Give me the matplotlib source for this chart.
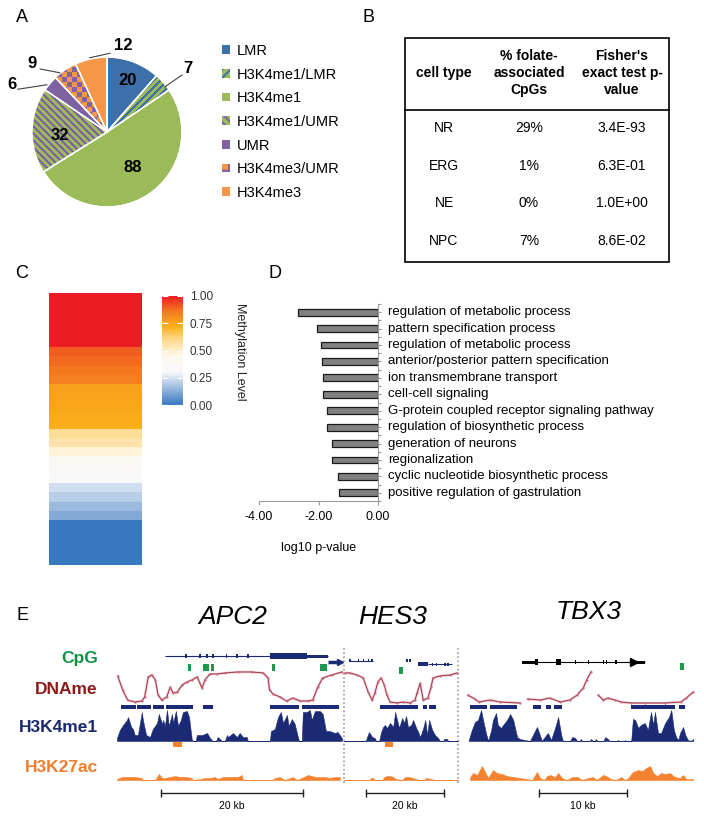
import matplotlib
matplotlib.use("Agg")
import matplotlib.pyplot as plt
import numpy as np
from matplotlib.patches import Rectangle, Patch
from matplotlib.colors import LinearSegmentedColormap, Normalize, to_rgb
from matplotlib.cm import ScalarMappable
from matplotlib.ticker import MultipleLocator

plt.rcParams['font.family'] = ['Liberation Sans', 'DejaVu Sans']
plt.rcParams['hatch.linewidth'] = 1.5

# --------------------
# Data
# --------------------
# A: pie
pie_labels = ['LMR', 'H3K4me1/LMR', 'H3K4me1', 'H3K4me1/UMR', 'UMR', 'H3K4me3/UMR', 'H3K4me3']
pie_counts = [20, 7, 88, 32, 6, 9, 12]

# B: table
table_header = ['cell type', '% folate-\nassociated\nCpGs', "Fisher's\nexact test p-\nvalue"]
cell_types = ['NR', 'ERG', 'NE', 'NPC']
pct_folate = ['29%', '1%', '0%', '7%']
fisher_p = ['3.4E-93', '6.3E-01', '1.0E+00', '8.6E-02']

# C: methylation heatmap (top -> bottom)
meth_levels = [1.0, 1.0, 1.0, 1.0, 1.0, 1.0, 0.90, 0.88, 0.86, 0.84,
               0.76, 0.75, 0.74, 0.73, 0.72, 0.58, 0.55, 0.48, 0.38, 0.35,
               0.32, 0.24, 0.20, 0.16, 0.12, 0.0, 0.0, 0.0, 0.0, 0.0]
cbar_ticks = [0.0, 0.25, 0.5, 0.75, 1.0]

# D: GO terms
go_terms = ['regulation of metabolic process', 'pattern specification process',
            'regulation of metabolic process', 'anterior/posterior pattern specification',
            'ion transmembrane transport', 'cell-cell signaling',
            'G-protein coupled receptor signaling pathway', 'regulation of biosynthetic process',
            'generation of neurons', 'regionalization',
            'cyclic nucleotide biosynthetic process', 'positive regulation of gastrulation']
go_log10p = [-2.70, -2.04, -1.93, -1.89, -1.86, -1.85, -1.71, -1.71, -1.56, -1.53, -1.34, -1.32]
go_xticks = [-4.0, -2.0, 0.0]

# E: genome tracks (positions in kb from window start)
gene_names = ['APC2', 'HES3', 'TBX3']
window_kb = [32.0, 29.2, 25.9]
scale_start = [6.2, 5.6, 8.2]
scale_len = [20, 20, 10]

apc2_gene_span = (6.8, 29.7)
apc2_exons = [(9.6, 9.9), (11.55, 11.85), (12.55, 12.8), (13.4, 13.65), (15.35, 15.55), (16.75, 17.0), (18.3, 18.55)]
apc2_cds = [(21.55, 26.75)]
apc2_utr = [(26.75, 29.7)]
apc2_next_gene = (29.7, 31.5)
apc2_cpg = [(10.0, 10.4), (12.1, 12.5), (12.6, 12.95), (13.3, 13.7), (21.9, 22.3), (28.6, 29.6)]
apc2_dname_pos = [0.1, 0.8, 1.5, 2.5, 3.5, 3.9, 4.4, 4.9, 5.4, 5.8, 6.3, 7.0, 7.5, 7.9, 8.5, 9.2, 9.9, 10.6, 11.3, 12.0,
                  12.4, 13.1, 14.1, 15.2, 17.0, 19.0, 20.6, 21.3, 21.5, 22.0, 23.0, 23.9, 24.8, 25.8, 26.9, 27.6, 28.3, 29.0, 30.3, 31.7]
apc2_dname_val = [0.82, 0.39, 0.09, 0.03, 0.06, 0.18, 0.79, 0.85, 0.70, 0.24, 0.09, 0.18, 0.48, 0.30, 0.33, 0.55, 0.64, 0.70, 0.79, 0.45,
                  0.70, 0.88, 0.88, 0.91, 0.94, 0.94, 0.91, 0.76, 0.39, 0.27, 0.18, 0.06, 0.15, 0.06, 0.06, 0.09, 0.48, 0.76, 0.85, 0.94]
apc2_k4_peaks = [(0.6, 2.7), (2.8, 4.8), (5.1, 6.6), (6.9, 10.7), (12.1, 13.5), (21.5, 25.6), (26.1, 31.3)]
apc2_k4_pos = [0.0, 0.4, 0.85, 1.4, 1.55, 2.0, 2.25, 2.5, 2.95, 3.5,
               3.65, 4.1, 4.65, 5.05, 5.65, 5.9, 6.35, 6.5, 6.75, 7.05,
               7.3, 7.75, 7.9, 8.3, 8.6, 9.0, 9.3, 9.85, 10.15, 10.55,
               10.85, 11.1, 11.25, 12.0, 12.7, 13.1, 13.5, 13.95, 14.2, 14.8,
               15.2, 15.5, 15.65, 16.35, 16.9, 17.3, 17.75, 18.3, 18.45, 21.55,
               21.7, 22.25, 22.7, 23.1, 23.4, 23.95, 24.2, 24.65, 25.05, 25.5,
               25.65, 26.05, 26.2, 26.75, 27.2, 27.45, 27.9, 28.6, 29.0, 29.45,
               30.0, 30.7, 31.1, 31.7]
apc2_k4_val = [3, 11, 16, 21, 24, 14, 12, 6, 6, 29,
               21, 6, 4, 12, 18, 27, 17, 21, 15, 31,
               15, 27, 18, 30, 15, 21, 29, 30, 24, 1,
               0, 0, 6, 6, 8, 3, 0, 0, 4, 0,
               0, 6, 4, 8, 4, 8, 4, 4, 0, 0,
               10, 12, 24, 29, 18, 26, 15, 22, 17, 4,
               0, 0, 29, 29, 31, 21, 30, 30, 27, 10,
               10, 8, 9, 3]
apc2_k27_peaks = [(7.9, 9.2)]
apc2_k27_pos = [0.0, 0.7, 1.55, 2.5, 3.5, 3.65, 5.35, 5.65, 5.9, 6.35,
                6.75, 7.45, 8.15, 8.85, 9.85, 10.55, 10.7, 11.7, 12.4, 13.1,
                13.8, 14.2, 14.9, 15.65, 16.35, 17.05, 17.6, 17.75, 21.85, 22.25,
                22.95, 23.65, 24.8, 25.35, 26.35, 26.9, 27.45, 28.0, 28.6, 29.3,
                30.0, 30.7, 31.4]
apc2_k27_val = [1, 3, 3, 3, 2, 0, 0, 3, 6, 2,
                2, 3, 4, 3, 3, 2, 0, 1, 2, 2,
                3, 1, 3, 3, 3, 3, 5, 0, 0, 2,
                3, 0, 3, 0, 3, 5, 4, 3, 3, 3,
                2, 3, 3]

hes3_gene1_span = (1.3, 7.4)
hes3_gene1_exons = [(1.3, 1.7), (3.5, 3.8), (4.8, 5.1), (6.1, 6.4), (7.0, 7.4)]
hes3_small_feat = [(15.9, 16.4), (16.7, 17.2)]
hes3_gene2_span = (21.5, 27.7)
hes3_gene2_cds = [(19.0, 21.5)]
hes3_gene2_exons = [(22.6, 22.9), (23.6, 23.9), (25.7, 26.0), (26.5, 26.8)]
hes3_cpg = [(14.1, 15.1)]
hes3_dname_pos = [0.3, 1.5, 3.3, 4.9, 6.2, 7.2, 7.9, 8.7, 9.5, 10.3, 11.0, 11.8, 13.6, 15.1, 16.9, 18.2, 18.7, 19.5,
                  20.3, 21.5, 22.3, 22.8, 24.6, 27.2, 29.0]
hes3_dname_val = [0.91, 0.91, 0.85, 0.76, 0.33, 0.09, 0.30, 0.64, 0.76, 0.55, 0.24, 0.03, 0.0, 0.03, 0.0, 0.09, 0.30, 0.60,
                  0.09, 0.15, 0.48, 0.76, 0.82, 0.85, 0.91]
hes3_k4_peaks = [(9.2, 19.0), (20.3, 21.3), (21.8, 23.6)]
hes3_k4_pos = [0.0, 5.6, 5.9, 6.4, 7.2, 7.9, 8.2, 9.0, 9.5, 10.0,
               10.5, 11.0, 11.8, 12.6, 13.1, 13.6, 14.1, 14.9, 15.4, 15.9,
               16.4, 17.2, 17.7, 18.5, 19.0, 19.5, 20.3, 20.8, 21.3, 21.8,
               22.6, 23.3, 24.1, 24.6, 25.4, 25.6, 26.4, 26.7, 29.2]
hes3_k4_val = [0, 0, 4, 9, 4, 3, 0, 0, 9, 14,
               16, 13, 18, 14, 29, 21, 13, 23, 18, 25,
               14, 16, 21, 13, 9, 4, 13, 21, 6, 21,
               11, 6, 3, 0, 0, 2, 2, 0, 0]
hes3_k27_peaks = [(10.5, 12.6)]
hes3_k27_pos = [0.0, 6.4, 6.9, 7.5, 7.9, 9.8, 10.3, 11.0, 11.8, 12.6, 13.3, 14.9, 15.6, 16.7, 17.7, 18.5, 19.2,
                20.5, 21.0, 22.3, 23.3, 29.2]
hes3_k27_val = [0, 0, 2, 2, 0, 0, 3, 4, 4, 3, 1, 0, 3, 3, 2, 1, 0, 0, 2, 1, 0, 0]

tbx3_gene_span = (6.25, 20.2)
tbx3_utr = [(6.25, 7.7), (19.0, 20.2)]
tbx3_big_exons = [(7.7, 8.1), (10.1, 10.7)]
tbx3_small_exons = [(12.25, 12.4), (13.7, 13.85), (15.4, 15.55), (15.75, 15.9), (16.85, 17.0)]
tbx3_cpg = [(24.2, 24.6)]
tbx3_dname_pos = [0.1, 0.9, 1.4, 2.6, 3.75, 6.0, np.nan, 6.9, 8.3, 9.4, 10.6, 11.7, 12.5, 13.2, 13.6, 14.1, np.nan,
                  14.9, 15.5, 16.0, 16.8, 17.5, 18.6, 20.2, 22.5, 24.3, 24.9, 25.7]
tbx3_dname_val = [0.24, 0.12, 0.03, 0.09, 0.03, 0.0, np.nan, 0.12, 0.09, 0.15, 0.03, 0.09, 0.24, 0.45, 0.70, 0.95, np.nan,
                  0.24, 0.09, 0.15, 0.09, 0.03, 0.0, 0.0, 0.0, 0.03, 0.15, 0.33]
tbx3_k4_peaks = [(0.35, 2.3), (2.6, 5.7), (7.5, 8.4), (9.0, 9.5), (9.9, 10.8), (18.6, 23.6), (24.1, 24.8)]
tbx3_k4_pos = [0.2, 0.55, 0.9, 1.25, 1.6, 1.8, 2.15, 2.4, 2.75, 2.95,
               3.3, 3.5, 3.85, 4.1, 4.55, 4.9, 5.25, 5.45, 5.7, 6.0,
               6.6, 7.15, 7.6, 7.95, 8.2, 8.5, 9.0, 9.2, 9.55, 10.0,
               10.35, 10.7, 10.9, 11.7, 11.95, 12.3, 12.5, 12.8, 12.95, 13.1,
               13.9, 14.1, 14.3, 14.5, 14.65, 14.8, 15.5, 15.7, 16.0, 16.2,
               17.0, 17.15, 17.3, 17.8, 17.95, 18.1, 18.65, 18.85, 19.1, 19.45,
               19.75, 20.2, 20.55, 20.9, 21.15, 21.35, 21.7, 22.05, 22.5, 22.95,
               23.2, 23.5, 23.75, 24.0, 24.2, 24.55, 24.8, 25.1, 25.4, 25.7]
tbx3_k4_val = [1, 11, 19, 21, 31, 22, 8, 0, 11, 21,
               28, 16, 13, 16, 21, 27, 21, 13, 4, 2,
               1, 0, 8, 14, 8, 0, 6, 8, 1, 13,
               24, 6, 0, 0, 4, 3, 0, 0, 2, 0,
               0, 2, 0, 0, 2, 0, 0, 4, 2, 0,
               0, 1, 0, 0, 1, 0, 0, 22, 21, 13,
               16, 18, 11, 29, 16, 29, 8, 8, 18, 24,
               31, 11, 4, 1, 8, 14, 6, 1, 0, 2]
tbx3_k27_pos = [0.35, 0.7, 1.15, 1.7, 2.05, 2.4, 2.95, 3.4, 4.0, 4.55,
                5.25, 6.0, 6.8, 7.4, 7.95, 8.3, 8.75, 9.1, 9.45, 10.0,
                10.35, 10.8, 11.35, 11.95, 12.6, 13.05, 13.75, 14.3, 14.75, 15.45,
                15.8, 16.35, 16.9, 17.5, 17.95, 18.3, 18.85, 19.45, 19.9, 20.35,
                20.8, 21.15, 21.6, 22.05, 22.5, 23.05, 23.6, 24.2, 24.55, 24.9, 25.7]
tbx3_k27_val = [3, 7, 5, 14, 8, 2, 10, 7, 6, 4,
                3, 2, 1, 0, 8, 2, 0, 4, 5, 3,
                7, 2, 0, 3, 3, 0, 2, 3, 0, 5,
                4, 1, 0, 3, 0, 2, 8, 10, 9, 12,
                14, 7, 4, 7, 6, 7, 3, 2, 5, 1, 1]
tbx3_k27_peaks = []

track_labels = ['CpG', 'DNAme', 'H3K4me1', 'H3K27ac']

# --------------------
# Styles
# --------------------
pie_face = ['#3d6fa8', '#9bbb59', '#9bbb59', '#9bbb59', '#7f62a1', '#f79646', '#f79646']
pie_alt = [None, '#3d6fa8', None, '#7f62a1', None, '#7f62a1', None]
pie_pattern = [None, '/', None, '\\', None, 'checker', None]
pie_lbl_xy = [(0.27, 0.69), (1.08, 0.85), (0.35, -0.48), (-0.63, -0.05), (-1.27, 0.63), (-1.0, 0.92), (0.21, 1.16)]
pie_leaders = {1: ((1.0, 0.76), (0.77, 0.6)), 4: ((-1.19, 0.57), (-0.8, 0.63)),
               5: ((-0.89, 0.84), (-0.63, 0.79)), 6: ((-0.23, 0.99), (0.04, 1.05))}

meth_cmap = LinearSegmentedColormap.from_list('meth', [
    (0.0, '#3878bf'), (0.3, '#f8f8fc'), (0.45, '#fff8ec'), (0.6, '#fdd98a'),
    (0.72, '#fbb01a'), (0.86, '#f47a20'), (1.0, '#ec1c24')])

NAVY = '#1b2a75'
ORANGE = '#f5822f'
GREEN = '#1a9a4a'
label_colors = ['#0f9145', '#8b1a1a', '#1b2a6b', '#f07e2e']

W, H = 704, 819
fig = plt.figure(figsize=(W / 100, H / 100), dpi=100)


def px_axes(x0, y0, x1, y1):
    return fig.add_axes([x0 / W, 1 - y1 / H, (x1 - x0) / W, (y1 - y0) / H])


def pattern_img(kind, c1, c2, n=300):
    i, j = np.indices((n, n))
    if kind == '/':
        mask = ((i - j) % 14) < 7
    elif kind == '\\':
        mask = ((i + j) % 14) < 7
    else:
        mask = ((i // 10 + j // 10) % 2) == 0
    return np.where(mask[..., None], to_rgb(c1), to_rgb(c2))


# overlay axes in pixel coordinates for free text
ov = px_axes(0, 0, W, H)
ov.set_xlim(0, W)
ov.set_ylim(H, 0)
ov.axis('off')

for lbl, (x, y) in zip('ABCDE', [(16, 17), (363, 17), (15, 274), (269, 274), (17, 615)]):
    ov.text(x, y, lbl, fontsize=13, va='center', ha='left')

# --------------------
# A: pie
# --------------------
axp = px_axes(0, 20, 215, 215)
wedges, _ = axp.pie(pie_counts, colors=pie_face, startangle=90, counterclock=False,
                    wedgeprops=dict(edgecolor='white', linewidth=1))
for w, kind, c1, c2 in zip(wedges, pie_pattern, pie_face, pie_alt):
    if kind is None:
        continue
    im = axp.imshow(pattern_img(kind, c1, c2), extent=(-1, 1, -1, 1), origin='lower',
                    interpolation='nearest', zorder=2)
    im.set_clip_path(w)
axp.pie(pie_counts, colors=['none'] * len(pie_counts), startangle=90, counterclock=False,
        wedgeprops=dict(edgecolor='white', linewidth=1, zorder=3))
for cnt, (lx, ly) in zip(pie_counts, pie_lbl_xy):
    axp.text(lx, ly, str(cnt), ha='center', va='center', fontsize=12, fontweight='bold', zorder=5)
for i, (p0, p1) in pie_leaders.items():
    axp.plot([p0[0], p1[0]], [p0[1], p1[1]], color='#404040', lw=0.8, zorder=5)
axp.set_aspect('auto')
axp.set_xlim(-107 / 75, 108 / 75)
axp.set_ylim((132 - 215) / 75, (132 - 20) / 75)

handles = []
for kind, c1, c2 in zip(pie_pattern, pie_face, pie_alt):
    if kind is None:
        handles.append(Patch(facecolor=c1, edgecolor=c1, lw=0))
    else:
        hatch = {'/': '////', '\\': '\\\\\\\\', 'checker': '++'}[kind]
        handles.append(Patch(facecolor=c1, edgecolor=c2, hatch=hatch, lw=0))
fig.legend(handles, pie_labels, loc='upper left', bbox_to_anchor=(222 / W, 1 - 44 / H),
           frameon=False, fontsize=10.5, handlelength=0.55, handleheight=0.55,
           handletextpad=0.45, labelspacing=0.66, borderpad=0, borderaxespad=0)

# --------------------
# B: table
# --------------------
ov.add_patch(Rectangle((405, 38), 264, 224, fill=False, edgecolor='black', lw=1.2))
ov.plot([405, 669], [110, 110], color='black', lw=1.2)
col_x = [444, 529, 622]
for x, txt in zip(col_x, table_header):
    ov.text(x, 73, txt, ha='center', va='center', fontsize=10, fontweight='bold', linespacing=1.3)
for y, row in zip([128, 166, 203, 241], zip(cell_types, pct_folate, fisher_p)):
    for x, txt in zip(col_x, row):
        ov.text(x, y, txt, ha='center', va='center', fontsize=10)

# --------------------
# C: heatmap + colorbar
# --------------------
axh = px_axes(49, 293, 142, 565)
axh.imshow(np.array(meth_levels)[:, None], cmap=meth_cmap, vmin=0, vmax=1,
           aspect='auto', interpolation='nearest')
axh.axis('off')

cax = px_axes(162, 296, 183, 405)
cb = fig.colorbar(ScalarMappable(Normalize(0, 1), meth_cmap), cax=cax, ticks=cbar_ticks)
cb.outline.set_visible(False)
cax.set_yticklabels([f'{t:.2f}' for t in cbar_ticks])
cax.tick_params(direction='in', color='white', length=4, width=0.8, left=True, right=True,
                labelsize=8.5, labelcolor='#333333', pad=5)
ov.text(240, 352, 'Methylation Level', rotation=270, ha='center', va='center', fontsize=9, color='#222222')

# --------------------
# D: GO bar chart
# --------------------
axb = px_axes(259, 304, 378, 501)
ypos = np.arange(len(go_terms))
axb.barh(ypos, go_log10p, height=0.42, color='#808080', edgecolor='#1a1a1a', linewidth=0.9)
axb.set_xlim(-4, 0)
axb.set_ylim(len(go_terms) - 0.5, -0.5)
for s in ['left', 'top']:
    axb.spines[s].set_visible(False)
for s in ['right', 'bottom']:
    axb.spines[s].set_color('#9a9a9a')
axb.set_xticks(go_xticks)
axb.set_xticklabels([f'{v:.2f}' for v in go_xticks])
axb.tick_params(axis='x', direction='out', length=3, color='#9a9a9a', labelsize=9, pad=4)
axb.yaxis.tick_right()
axb.yaxis.set_major_locator(MultipleLocator(0.5))
axb.tick_params(axis='y', length=2.5, color='#9a9a9a', labelright=False)
axb.set_xlabel('log10 p-value', fontsize=9, labelpad=14)
for i, term in enumerate(go_terms):
    axb.text(0.35, i, term, ha='left', va='center', fontsize=9.5, clip_on=False)

# --------------------
# E: genome browser tracks
# --------------------
panels_px = [(117, 344), (344, 458), (467, 695)]
gene_title_xy = [(233, 617), (393, 617), (589, 612)]
for (x, y), name in zip(gene_title_xy, gene_names):
    ov.text(x, y, name, ha='center', va='center', fontsize=19, style='italic')
for y, lbl, c in zip([659, 690, 727, 767], track_labels, label_colors):
    ov.text(98, y, lbl, ha='right', va='center', fontsize=12.5, fontweight='bold', color=c)
ov.vlines([344, 458], 648, 785, colors='#9a9a9a', linestyles=(0, (1, 1.5)), lw=1.2)


def track_axes(px, y0, y1, xmax, ylim):
    ax = px_axes(px[0], y0, px[1], y1)
    ax.set_xlim(0, xmax)
    ax.set_ylim(*ylim)
    ax.axis('off')
    return ax


def bars(ranges):
    return [(s, e - s) for s, e in ranges]


def draw_gene(ax, y, span, blocks, color):
    ax.hlines(y, span[0], span[1], color=color, lw=0.8)
    for ranges, h in blocks:
        ax.broken_barh(bars(ranges), (y - h / 2, h), facecolors=color)


tracks = [
    (apc2_cpg, 14, apc2_dname_pos, apc2_dname_val, apc2_k4_peaks, apc2_k4_pos, apc2_k4_val,
     apc2_k27_peaks, apc2_k27_pos, apc2_k27_val),
    (hes3_cpg, 17, hes3_dname_pos, hes3_dname_val, hes3_k4_peaks, hes3_k4_pos, hes3_k4_val,
     hes3_k27_peaks, hes3_k27_pos, hes3_k27_val),
    (tbx3_cpg, 13, tbx3_dname_pos, tbx3_dname_val, tbx3_k4_peaks, tbx3_k4_pos, tbx3_k4_val,
     tbx3_k27_peaks, tbx3_k27_pos, tbx3_k27_val),
]

for k, (px, xmax, trk) in enumerate(zip(panels_px, window_kb, tracks)):
    cpg, cpg_y, dm_pos, dm_val, k4_pk, k4_pos, k4_val, k27_pk, k27_pos, k27_val = trk

    ga = track_axes(px, 650, 676, xmax, (26, 0))
    if k == 0:
        draw_gene(ga, 6, apc2_gene_span, [(apc2_exons, 4), (apc2_cds, 6), (apc2_utr, 3)], NAVY)
        ga.plot(apc2_next_gene, [12, 12], color=NAVY, lw=2.5, solid_capstyle='butt')
        ga.plot(apc2_next_gene[1], 12, marker='>', ms=5, color=NAVY, clip_on=False)
    elif k == 1:
        draw_gene(ga, 10.7, hes3_gene1_span, [(hes3_gene1_exons, 3)], NAVY)
        ga.broken_barh(bars(hes3_small_feat), (8.5, 3), facecolors=NAVY)
        draw_gene(ga, 14, hes3_gene2_span, [(hes3_gene2_cds, 4), (hes3_gene2_exons, 3)], NAVY)
    else:
        draw_gene(ga, 12, tbx3_gene_span, [(tbx3_utr, 3), (tbx3_big_exons, 6), (tbx3_small_exons, 4)], 'black')
        ga.plot(tbx3_utr[1][0], 12, marker='>', ms=6, color='black')
    ga.broken_barh(bars(cpg), (cpg_y, 7), facecolors=GREEN)

    da = track_axes(px, 670, 703, xmax, (0, 1))
    da.plot(dm_pos, dm_val, color='#e2a5b0', lw=1.6, alpha=0.8, clip_on=False)
    da.plot(dm_pos, dm_val, color='#9a2a3c', lw=0.6, clip_on=False)
    da.plot(dm_pos, dm_val, linestyle='none', marker='o', ms=1.6, mew=0,
            color='#c8687a', clip_on=False)

    ka = track_axes(px, 704, 741, xmax, (0, 37))
    ka.fill_between(k4_pos, 0, k4_val, color=NAVY, lw=0.4)
    ka.broken_barh(bars(k4_pk), (32, 4), facecolors=NAVY)

    aa = track_axes(px, 742, 780, xmax, (0, 38))
    aa.fill_between(k27_pos, 0, k27_val, color=ORANGE, lw=0.4)
    if k27_pk:
        aa.broken_barh(bars(k27_pk), (33, 5), facecolors=ORANGE)

    sa = track_axes(px, 786, 812, xmax, (26, 0))
    s0, L = scale_start[k], scale_len[k]
    sa.plot([s0, s0 + L], [7, 7], color='#222222', lw=1)
    sa.plot([s0, s0 + L], [7, 7], linestyle='none', marker='|', ms=6, mew=1, color='#222222')
    sa.text(s0 + L / 2, 20, f'{L} kb', ha='center', va='center', fontsize=7.5)

fig.savefig('out.png', dpi=100)
